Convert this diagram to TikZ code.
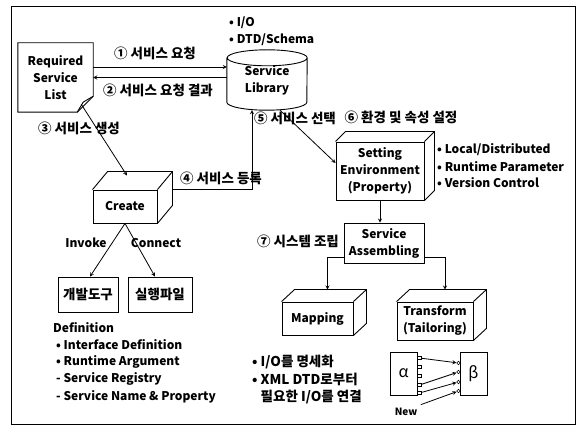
\documentclass[tikz,border=0pt]{standalone}
\usepackage{fontspec}
\setmainfont{Noto Sans CJK KR}
\usepackage{tikz}
\usetikzlibrary{positioning,calc}
% top and right faces of a box drawn round a node
\newcommand{\cubefaces}[3]{%
  \draw[boxline] (#1.north west) -- ([shift={(#2,-#3)}]#1.north west)
    -- ([shift={(#2,-#3)}]#1.north east) -- ([shift={(#2,-#3)}]#1.south east)
    -- (#1.south east);
  \draw[boxline] (#1.north east) -- ([shift={(#2,-#3)}]#1.north east);}

\begin{document}
\begin{tikzpicture}[x=1pt,y=-1pt,
          font=\fontsize{12}{17}\selectfont\bfseries,
          boxline/.style={line width=0.9pt},
          cubebox/.style={draw,boxline,align=center,inner sep=1pt},
          plainbox/.style={draw,boxline,align=center,inner sep=1pt},
          docnode/.style={align=center,minimum width=75pt,minimum height=69pt},
          note/.style={anchor=west,inner sep=0pt},
          krtext/.style={font=\fontsize{13.5}{17}\selectfont\bfseries},
          port/.style={draw,line width=0.6pt,inner sep=0pt,minimum size=3.5pt},
          link/.style={->,>=stealth,line width=0.8pt}
          ]
          \useasboundingbox (0,0) rectangle (587,430);
          % the frame
          \draw[boxline] (11,6) rectangle (575,424);

          % the service list
          \node[docnode] (lst) at (55.5,77.5) {Required\\Service\\List};
          \draw[boxline] (lst.north west) -- (lst.north east) -- ([yshift=16pt]lst.south east)
            -- ([xshift=-16pt]lst.south east) -- (lst.south west) -- cycle;
          \draw[boxline] ([xshift=-16pt]lst.south east) -- ([xshift=-10pt,yshift=10pt]lst.south east)
            -- ([yshift=16pt]lst.south east);

          % the library
          \node[align=center,minimum width=80pt,minimum height=60pt] (lib) at (267,80) {Service\\Library};
          \draw[boxline] ([yshift=-8pt]lib.north west) -- ([yshift=8pt]lib.south west)
            arc[start angle=180,end angle=360,x radius=40pt,y radius=8pt]
            -- ([yshift=-8pt]lib.north east)
            arc[start angle=0,end angle=180,x radius=40pt,y radius=8pt]
            arc[start angle=180,end angle=360,x radius=40pt,y radius=8pt];
          \foreach \i/\y/\txt in {1/23/{I/O},2/40/{DTD/Schema}}
            \node[note] (lnote\i) at (229,\y) {• \txt};

          % request and result
          \draw[link] ([yshift=10.5pt]lst.east) -- ([yshift=13pt]lib.west);
          \draw[link] ([yshift=2.5pt]lib.west) -- (lst.east);
          \node[krtext] (t1) at (155,53) {① 서비스 요청};
          \node[krtext] (t2) at (158,90) {② 서비스 요청 결과};

          % create
          \node[cubebox,minimum width=64pt,minimum height=33pt] (crt) at (125,206.5) {Create};
          \cubefaces{crt}{15}{18}
          \draw[link] ([xshift=-12pt,yshift=8pt]lst.south east) -- ([xshift=2pt,yshift=14pt]crt.north);
          \node[krtext] (t3) at (79,128) {③ 서비스 생성};
          \draw[link] ([xshift=15pt,yshift=17.5pt]crt.east) -| ([xshift=-15pt]lib.south);
          \node[krtext] (t4) at (221,178) {④ 서비스 등록};

          \node[plainbox,krtext,minimum width=60pt,minimum height=35pt] (dev) at (88,294.5) {개발도구};
          \node[plainbox,krtext,minimum width=64pt,minimum height=35pt] (exe) at (160,294.5) {실행파일};
          \draw[link] (crt.south) -- ([xshift=2pt]dev.north);
          \draw[link] (crt.south) -- ([xshift=-5pt]exe.north);
          \node (inv) at (86,243) {Invoke};
          \node (con) at (156,243) {Connect};

          \node[note] (def) at (53,328) {Definition};
          \foreach \i/\y/\txt in {1/345/• Interface Definition,2/362/• Runtime Argument,
                                  3/379/- Service Registry,4/397/- Service Name \& Property}
            \node[note] (d\i) at (56,\y) {\txt};

          % environment
          \node[cubebox,minimum width=88pt,minimum height=58pt] (env) at (380,171) {Setting\\Environment\\(Property)};
          \cubefaces{env}{10}{10}
          \draw[link] ([xshift=13pt]lib.south) -- ([yshift=8pt]env.west);
          \node[krtext] (t5) at (295,118) {⑤ 서비스 선택};
          \node[krtext] (t6) at (401,117) {⑥ 환경 및 속성 설정};
          \foreach \i/\y/\txt in {1/150/{Local/Distributed},2/167/Runtime Parameter,3/183/Version Control}
            \node[note] (e\i) at (437,\y) {• \txt};

          % assembling
          \node[plainbox,minimum width=80pt,minimum height=40pt] (asm) at (384,243) {Service\\Assembling};
          \draw[link] (env.south) -- (env.south |- asm.north);
          \node[krtext] (t7) at (298,241) {⑦ 시스템 조립};

          \node[cubebox,minimum width=71pt,minimum height=33pt] (map) at (317.5,318.5) {Mapping};
          \cubefaces{map}{13}{12}
          \node[cubebox,minimum width=76pt,minimum height=38pt] (trf) at (435,321) {Transform\\(Tailoring)};
          \cubefaces{trf}{13}{12}
          \draw[link] ([yshift=-14pt]asm.west) -| ([xshift=10pt,yshift=12pt]map.north);
          \draw[link] ([yshift=-14pt]asm.east) -| ([xshift=10pt,yshift=12pt]trf.north);

          \foreach \i/\y/\txt in {1/362/{• I/O를 명세화},2/379/• XML DTD로부터,3/397/{\phantom{• }필요한 I/O를 연결}}
            \node[note,krtext] (m\i) at (252,\y) {\txt};

          % the tailoring example
          \node[draw,boxline,minimum width=27pt,minimum height=43pt,font=\fontsize{16}{18}\selectfont] (alp) at (403.5,373.5) {α};
          \node[draw,boxline,minimum width=27pt,minimum height=43pt,font=\fontsize{16}{18}\selectfont] (bet) at (473.5,373.5) {β};
          \foreach \i/\y in {1/358,2/367,3/376,4/385,5/393}
            \node[port] (a\i) at (419.5,\y) {};
          \foreach \i/\y in {1/363,2/372,3/382,4/391}
            \node[port,circle] (b\i) at (458.5,\y) {};
          \draw[link] (a1) -- (b1);
          \draw[link] (a4) -- (b2);
          \draw[link] (a5) -- (b3);
          \node[font=\fontsize{10}{12}\selectfont\bfseries] (new) at (406,412) {New};
          \draw[link] (new.north east) -- (b4);
        \end{tikzpicture}
\end{document}
